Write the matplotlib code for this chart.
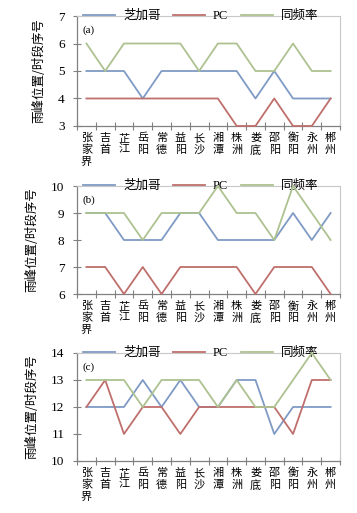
import matplotlib
matplotlib.use("Agg")
import matplotlib.pyplot as plt
import numpy as np

plt.rcParams['font.family'] = ['Liberation Serif', 'Noto Sans CJK SC', 'DejaVu Sans']

cities = ["张家界", "吉首", "芷江", "岳阳", "常德", "益阳", "长沙", "湘潭", "株洲", "娄底", "邵阳", "衡阳", "永州", "郴州"]
city_labels = ["\n".join(c) for c in cities]

series_names = ["芝加哥", "PC", "同频率"]

a_chicago = [5, 5, 5, 4, 5, 5, 5, 5, 5, 4, 5, 4, 4, 4]
a_pc      = [4, 4, 4, 4, 4, 4, 4, 4, 3, 3, 4, 3, 3, 4]
a_same    = [6, 5, 6, 6, 6, 6, 5, 6, 6, 5, 5, 6, 5, 5]

b_chicago = [9, 9, 8, 8, 8, 9, 9, 8, 8, 8, 8, 9, 8, 9]
b_pc      = [7, 7, 6, 7, 6, 7, 7, 7, 7, 6, 7, 7, 7, 6]
b_same    = [9, 9, 9, 8, 9, 9, 9, 10, 9, 9, 8, 10, 9, 8]

c_chicago = [12, 12, 12, 13, 12, 13, 12, 12, 13, 13, 11, 12, 12, 12]
c_pc      = [12, 13, 11, 12, 12, 11, 12, 12, 12, 12, 12, 11, 13, 13]
c_same    = [13, 13, 13, 12, 13, 13, 13, 12, 13, 12, 12, 13, 14, 13]

panels = [
    ("(a)", (a_chicago, a_pc, a_same), (3, 7)),
    ("(b)", (b_chicago, b_pc, b_same), (6, 10)),
    ("(c)", (c_chicago, c_pc, c_same), (10, 14)),
]

colors = ["#7f9ac4", "#bf6f6c", "#adc290"]
ylabel = "雨峰位置/时段序号"

fig = plt.figure(figsize=(3.57, 5.13), dpi=100)
rects = [
    [0.2157, 0.7544, 0.7367, 0.2144],
    [0.2157, 0.4269, 0.7367, 0.2105],
    [0.2157, 0.1014, 0.7367, 0.2105],
]

x = np.arange(len(cities))
for rect, (tag, data, (ymin, ymax)) in zip(rects, panels):
    ax = fig.add_axes(rect)
    for vals, col, name in zip(data, colors, series_names):
        ax.plot(x, vals, color=col, lw=1.3, label=name, zorder=3, clip_on=False)
    ax.set_xlim(-0.5, len(cities) - 0.5)
    ax.set_ylim(ymin, ymax)
    ax.set_yticks(range(ymin, ymax + 1))
    ax.set_xticks(x)
    ax.set_xticks(np.arange(-0.5, len(cities), 1), minor=True)
    ax.set_xticklabels(city_labels)
    for lbl in ax.get_xticklabels():
        lbl.set_fontfamily(['Noto Sans CJK SC'])
        lbl.set_fontsize(8)
        lbl.set_linespacing(1.2)
    ax.tick_params(axis='x', which='major', length=0, pad=5)
    ax.tick_params(axis='x', which='minor', length=6, direction='inout', color='#808080', width=0.8)
    ax.tick_params(axis='y', length=6, direction='inout', color='#808080', width=0.8, labelsize=9.5, pad=6)
    for side in ['top', 'right']:
        ax.spines[side].set_color('#c8c8c8')
        ax.spines[side].set_linewidth(0.8)
    for side in ['left', 'bottom']:
        ax.spines[side].set_color('#808080')
        ax.spines[side].set_linewidth(0.9)
    ax.set_ylabel(ylabel, fontsize=9, labelpad=9, family=['Noto Sans CJK SC'])
    ax.text(0.02, 0.87, tag, transform=ax.transAxes, fontsize=8, ha='left', va='center')
    leg = ax.legend(loc='center', bbox_to_anchor=(0.47, 1.0), ncol=3, frameon=False,
                    fontsize=9, handlelength=2.6, handletextpad=0.6, columnspacing=1.0,
                    borderpad=0, borderaxespad=0)
    leg.set_zorder(2.6)

fig.savefig("out.png", dpi=100)
